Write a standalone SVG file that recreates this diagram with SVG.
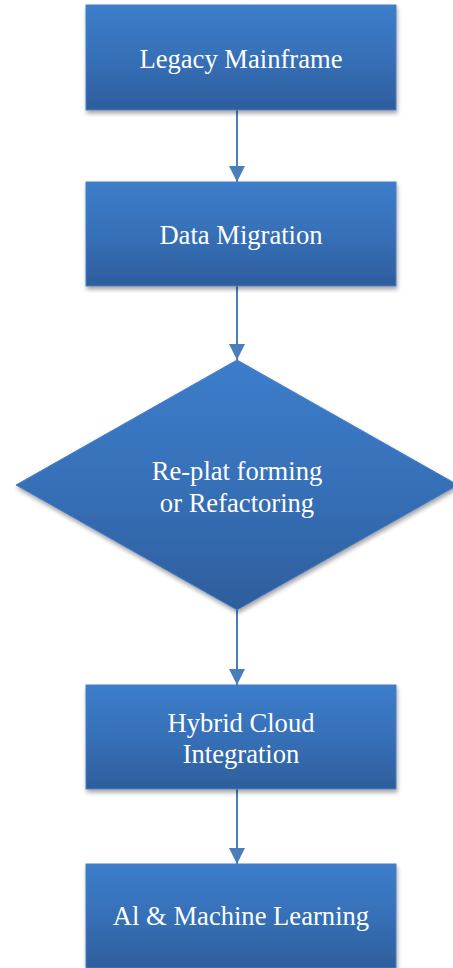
<svg xmlns="http://www.w3.org/2000/svg" width="453" height="968" viewBox="0 0 453 968">
<style>
.node{fill:url(#g);stroke:#4a7fc4;stroke-width:1;filter:url(#sh)}
.lbl{font-family:"Liberation Serif","Times New Roman",serif;font-size:26.6px;fill:#ffffff;text-anchor:middle}
.con{stroke:#4a7ebb;stroke-width:2;fill:none;marker-end:url(#ah)}
</style>
<defs>
<linearGradient id="g" x1="0" y1="0" x2="0" y2="1">
<stop offset="0" stop-color="#3c7dcb"/>
<stop offset="0.5" stop-color="#3670b8"/>
<stop offset="1" stop-color="#2e5e9c"/>
</linearGradient>
<filter id="sh" x="-10%" y="-10%" width="120%" height="130%">
<feGaussianBlur in="SourceAlpha" stdDeviation="2"/>
<feOffset dx="1" dy="3" result="b"/>
<feFlood flood-color="#000" flood-opacity="0.35"/>
<feComposite in2="b" operator="in"/>
<feMerge><feMergeNode/><feMergeNode in="SourceGraphic"/></feMerge>
</filter>
<marker id="ah" markerUnits="userSpaceOnUse" markerWidth="18" markerHeight="18" refX="16" refY="8" orient="auto">
<path d="M0,0 L16,8 L0,16 Z" fill="#4a7ebb"/>
</marker>
</defs>
<g id="connectors">
<line class="con" x1="237" y1="110" x2="237" y2="182"/>
<line class="con" x1="237" y1="286" x2="237" y2="360"/>
<line class="con" x1="237" y1="610" x2="237" y2="685"/>
<line class="con" x1="237" y1="789" x2="237" y2="864"/>
</g>
<g id="n1">
<rect class="node" x="86" y="5" width="310" height="105"/>
<text class="lbl" x="241" y="68">Legacy Mainframe</text>
</g>
<g id="n2">
<rect class="node" x="86" y="182" width="310" height="104"/>
<text class="lbl" x="241" y="244">Data Migration</text>
</g>
<g id="n3">
<polygon class="node" points="237,360 458,485 237,610 16,485"/>
<text class="lbl" x="237" y="480">Re-plat forming</text>
<text class="lbl" x="237" y="512">or Refactoring</text>
</g>
<g id="n4">
<rect class="node" x="86" y="685" width="310" height="104"/>
<text class="lbl" x="241" y="732">Hybrid Cloud</text>
<text class="lbl" x="241" y="763">Integration</text>
</g>
<g id="n5">
<rect class="node" x="86" y="864" width="310" height="104"/>
<text class="lbl" x="241" y="925">Al &amp; Machine Learning</text>
</g>
</svg>
